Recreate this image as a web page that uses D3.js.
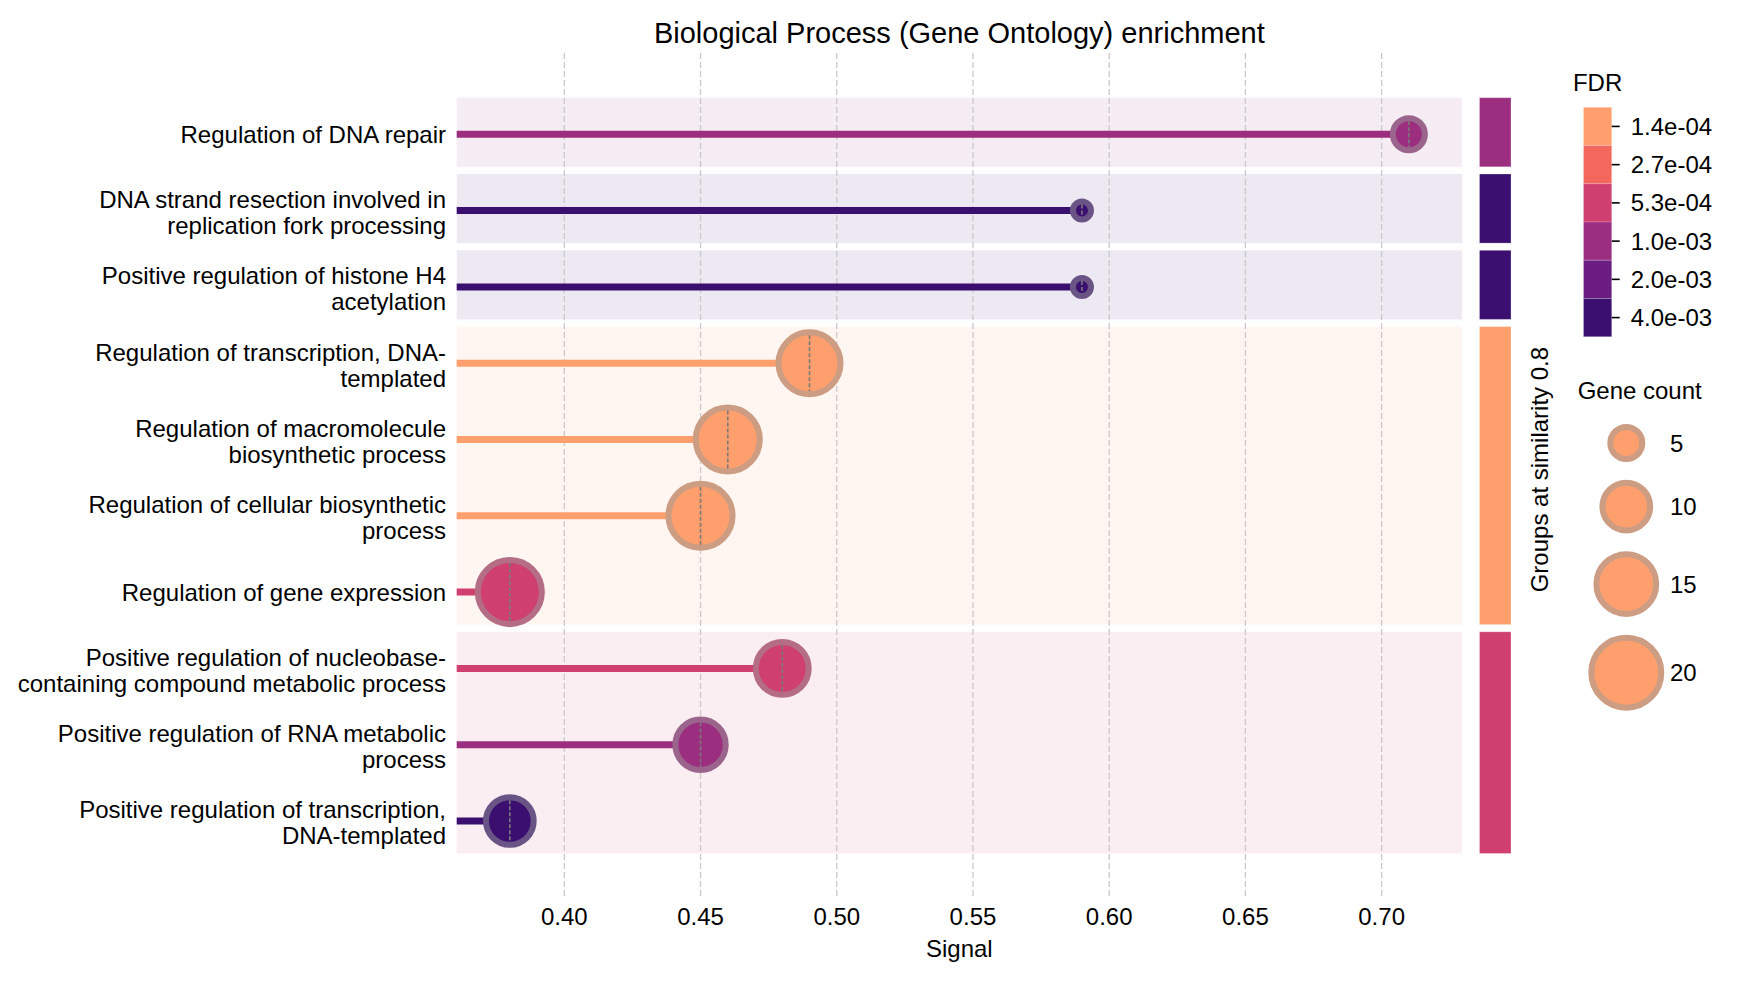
<!DOCTYPE html>
<html>
<head>
<meta charset="utf-8">
<script src="https://cdn.jsdelivr.net/npm/d3@7"></script>
<style>
  html, body { margin: 0; padding: 0; background: #fff; }
  svg { display: block; }
  text { font-family: "Liberation Sans", Arial, sans-serif; fill: #000; }
</style>
</head>
<body>
<svg id="chart" width="1750" height="982"></svg>
<script>
// ---------------- data ----------------
const categories = [
  "Regulation of DNA repair",
  "DNA strand resection involved in\nreplication fork processing",
  "Positive regulation of histone H4\nacetylation",
  "Regulation of transcription, DNA-\ntemplated",
  "Regulation of macromolecule\nbiosynthetic process",
  "Regulation of cellular biosynthetic\nprocess",
  "Regulation of gene expression",
  "Positive regulation of nucleobase-\ncontaining compound metabolic process",
  "Positive regulation of RNA metabolic\nprocess",
  "Positive regulation of transcription,\nDNA-templated"
];
const signal    = [0.71, 0.59, 0.59, 0.49, 0.46, 0.45, 0.38, 0.48, 0.45, 0.38];
const geneCount = [5, 2, 2, 16, 17, 17, 17, 12, 11, 10];
const fdr       = [1.0e-3, 4.0e-3, 4.0e-3, 1.4e-4, 1.4e-4, 1.4e-4, 5.3e-4, 5.3e-4, 1.0e-3, 4.0e-3];
const groupId   = [0, 1, 2, 3, 3, 3, 3, 4, 4, 4];

const xTicks = [0.40, 0.45, 0.50, 0.55, 0.60, 0.65, 0.70];
const fdrTickValues = [1.4e-4, 2.7e-4, 5.3e-4, 1.0e-3, 2.0e-3, 4.0e-3];
const fdrTickLabels = ["1.4e-04", "2.7e-04", "5.3e-04", "1.0e-03", "2.0e-03", "4.0e-03"];
const sizeLegendValues = [5, 10, 15, 20];

const titleText = "Biological Process (Gene Ontology) enrichment";
const xLabel = "Signal";
const stripLabel = "Groups at similarity 0.8";
const fdrTitle = "FDR";
const sizeTitle = "Gene count";

// ---------------- scales ----------------
const svg = d3.select("#chart");
const FONT = 24;

const x = d3.scaleLinear().domain([0.3605, 0.7295]).range([456.7, 1462]);
const slot = d3.scaleBand().domain(d3.range(categories.length)).range([94.1, 857.1]).paddingInner(0).paddingOuter(0);
const rowY = i => slot(i) + 40.2;
const bandPad = 3.6;

// magma palette, 6 discrete bins (best FDR -> light)
const palette = fdrTickValues.map((_, i) => d3.interpolateMagma(0.8 - i * 0.12));
const colorOf = v => {
  const lv = Math.log(v);
  let best = 0, bd = Infinity;
  fdrTickValues.forEach((t, i) => { const d = Math.abs(Math.log(t) - lv); if (d < bd) { bd = d; best = i; } });
  return palette[best];
};
const edgeOf = c => d3.interpolateRgb(c, "#999999")(0.5);
const rOuter = d3.scaleSqrt().domain([0, 20]).range([0, 38]);
const EDGE_W = 6;

// groups
const groups = d3.groups(d3.range(categories.length), i => groupId[i]).map(([g, idx]) => {
  const minF = d3.min(idx, i => fdr[i]);
  return { g, first: d3.min(idx), last: d3.max(idx), color: colorOf(minF) };
});

// ---------------- title ----------------
svg.append("text")
  .attr("x", (x.range()[0] + x.range()[1]) / 2).attr("y", 43.3)
  .attr("text-anchor", "middle").style("font-size", "29px")
  .text(titleText);

// ---------------- group bands ----------------
const bandTop = g => slot(g.first) + bandPad;
const bandBot = g => slot(g.last) + slot.bandwidth() - bandPad;

svg.append("g").selectAll("rect").data(groups).join("rect")
  .attr("x", x.range()[0]).attr("width", x.range()[1] - x.range()[0])
  .attr("y", bandTop).attr("height", g => bandBot(g) - bandTop(g))
  .attr("fill", g => g.color).attr("fill-opacity", 0.09);

// strip
svg.append("g").selectAll("rect").data(groups).join("rect")
  .attr("x", 1479.5).attr("width", 31.5)
  .attr("y", bandTop).attr("height", g => bandBot(g) - bandTop(g))
  .attr("fill", g => g.color)
  .attr("stroke", "#ffffff").attr("stroke-opacity", 0.25).attr("stroke-width", 1);

svg.append("text")
  .attr("transform", `translate(1548,${(bandTop(groups[0]) + bandBot(groups[groups.length - 1])) / 2 - 6}) rotate(-90)`)
  .attr("text-anchor", "middle").style("font-size", FONT + "px")
  .text(stripLabel);

// ---------------- grid ----------------
svg.append("g").selectAll("line").data(xTicks).join("line")
  .attr("x1", d => x(d)).attr("x2", d => x(d))
  .attr("y1", 53).attr("y2", 898)
  .attr("stroke", "#c9c9c9").attr("stroke-width", 1.3)
  .attr("stroke-dasharray", "6,3");

// x tick labels
svg.append("g").selectAll("text").data(xTicks).join("text")
  .attr("x", d => x(d)).attr("y", 925)
  .attr("text-anchor", "middle").style("font-size", FONT + "px")
  .text(d => d3.format(".2f")(d));

svg.append("text")
  .attr("x", (x.range()[0] + x.range()[1]) / 2).attr("y", 957)
  .attr("text-anchor", "middle").style("font-size", FONT + "px")
  .text(xLabel);

// ---------------- y labels ----------------
const yl = svg.append("g").selectAll("text").data(categories).join("text")
  .attr("text-anchor", "end").style("font-size", FONT + "px");
yl.each(function (d, i) {
  const lines = d.split("\n");
  const t = d3.select(this);
  const cy = rowY(i);
  if (lines.length === 1) {
    t.append("tspan").attr("x", 446).attr("y", cy + 8.6).text(lines[0]);
  } else {
    lines.forEach((l, k) => t.append("tspan").attr("x", 446).attr("y", cy - 2.6 + k * 26).text(l));
  }
});

// ---------------- lollipops ----------------
const idx = d3.range(categories.length);
svg.append("g").selectAll("line").data(idx).join("line")
  .attr("x1", x.range()[0]).attr("x2", i => x(signal[i]))
  .attr("y1", rowY).attr("y2", rowY)
  .attr("stroke", i => colorOf(fdr[i])).attr("stroke-width", 7);

svg.append("g").selectAll("circle").data(idx).join("circle")
  .attr("cx", i => x(signal[i])).attr("cy", rowY)
  .attr("r", i => rOuter(geneCount[i]) - EDGE_W / 2)
  .attr("fill", i => colorOf(fdr[i]))
  .attr("stroke", i => edgeOf(colorOf(fdr[i])))
  .attr("stroke-width", EDGE_W);

svg.append("g").selectAll("line").data(idx).join("line")
  .attr("x1", i => x(signal[i])).attr("x2", i => x(signal[i]))
  .attr("y1", i => rowY(i) - (rOuter(geneCount[i]) - EDGE_W))
  .attr("y2", i => rowY(i) + (rOuter(geneCount[i]) - EDGE_W))
  .attr("stroke", "#7a7a7a").attr("stroke-width", 1.6)
  .attr("stroke-dasharray", "4,2");

// ---------------- FDR colorbar ----------------
const cb = { x: 1583.5, y: 107.3, w: 28.2, h: 229.4 };
const cellH = cb.h / palette.length;
svg.append("text").attr("x", cb.x + cb.w / 2).attr("y", 90.7)
  .attr("text-anchor", "middle").style("font-size", FONT + "px").text(fdrTitle);
svg.append("g").selectAll("rect").data(palette).join("rect")
  .attr("x", cb.x).attr("y", (d, i) => cb.y + i * cellH)
  .attr("width", cb.w).attr("height", cellH)
  .attr("fill", d => d)
  .attr("stroke", "#ffffff").attr("stroke-opacity", 0.2).attr("stroke-width", 1);
svg.append("g").selectAll("line").data(fdrTickLabels).join("line")
  .attr("x1", cb.x + cb.w).attr("x2", cb.x + cb.w + 8)
  .attr("y1", (d, i) => cb.y + (i + 0.5) * cellH).attr("y2", (d, i) => cb.y + (i + 0.5) * cellH)
  .attr("stroke", "#000").attr("stroke-width", 1.6);
svg.append("g").selectAll("text").data(fdrTickLabels).join("text")
  .attr("x", 1630.7).attr("y", (d, i) => cb.y + (i + 0.5) * cellH + 8.6)
  .style("font-size", FONT + "px").text(d => d);

// ---------------- Gene count legend ----------------
svg.append("text").attr("x", 1639.7).attr("y", 399.3)
  .attr("text-anchor", "middle").style("font-size", FONT + "px").text(sizeTitle);
const legGap = 17.7;
let ly = 443;
const legY = sizeLegendValues.map((v, i) => {
  if (i > 0) ly += rOuter(sizeLegendValues[i - 1]) + rOuter(v) + legGap;
  return ly;
});
const legColor = palette[0];
svg.append("g").selectAll("circle").data(sizeLegendValues).join("circle")
  .attr("cx", 1626.3).attr("cy", (d, i) => legY[i])
  .attr("r", d => rOuter(d) - EDGE_W / 2)
  .attr("fill", legColor).attr("stroke", edgeOf(legColor)).attr("stroke-width", EDGE_W);
svg.append("g").selectAll("text").data(sizeLegendValues).join("text")
  .attr("x", 1670).attr("y", (d, i) => legY[i] + 8.6)
  .style("font-size", FONT + "px").text(d => d);
</script>
</body>
</html>
